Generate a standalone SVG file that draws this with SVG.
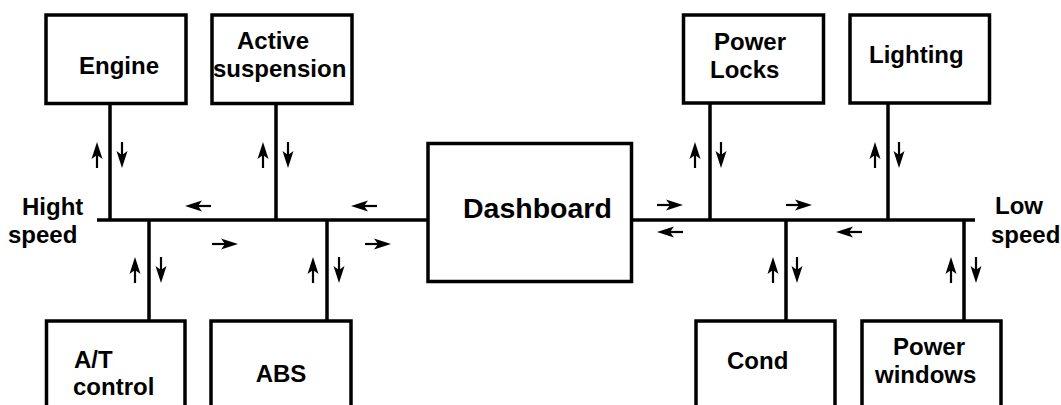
<svg xmlns="http://www.w3.org/2000/svg" width="1061" height="405" viewBox="0 0 1061 405">
  <style>
    .box { fill: #fff; stroke: #000; stroke-width: 3.5; }
    .wire { stroke: #000; stroke-width: 3.5; fill: none; }
    .lbl { font-family: "Liberation Sans", Arial, sans-serif; font-weight: bold; font-size: 24px; fill: #000; }
    .big { font-size: 28.5px; }
  </style>
  <defs>
    <!-- small signal arrow: tail at origin, tip at (26,0) -->
    <g id="sig">
      <path d="M0,0 H15" stroke="#000" stroke-width="2.2" fill="none"/>
      <path d="M26,0 L9,-5.5 L13,0 L9,5.5 Z" fill="#000"/>
    </g>
  </defs>
  <rect width="1061" height="405" fill="#fff"/>

  <!-- buses and stubs -->
  <g id="connectors">
    <path class="wire" d="M97,220 H428"/>
    <path class="wire" d="M631,220 H975"/>
    <path class="wire" d="M110,103.5 V220 M276,103.5 V220 M149,220 V321 M327,220 V321"/>
    <path class="wire" d="M710,103 V220 M888,103 V220 M786,220 V321 M964,220 V321"/>

    <!-- up/down pairs on the stubs -->
    <use href="#sig" transform="translate(97,168) rotate(-90)"/>
    <use href="#sig" transform="translate(122,142) rotate(90)"/>
    <use href="#sig" transform="translate(263,168) rotate(-90)"/>
    <use href="#sig" transform="translate(288,142) rotate(90)"/>
    <use href="#sig" transform="translate(695,168) rotate(-90)"/>
    <use href="#sig" transform="translate(721,142) rotate(90)"/>
    <use href="#sig" transform="translate(875,168) rotate(-90)"/>
    <use href="#sig" transform="translate(899,142) rotate(90)"/>
    <use href="#sig" transform="translate(135,283) rotate(-90)"/>
    <use href="#sig" transform="translate(161,257) rotate(90)"/>
    <use href="#sig" transform="translate(313,283) rotate(-90)"/>
    <use href="#sig" transform="translate(339,257) rotate(90)"/>
    <use href="#sig" transform="translate(773,283) rotate(-90)"/>
    <use href="#sig" transform="translate(797,257) rotate(90)"/>
    <use href="#sig" transform="translate(951,283) rotate(-90)"/>
    <use href="#sig" transform="translate(976,257) rotate(90)"/>

    <!-- flow along the buses -->
    <use href="#sig" transform="translate(211,206) rotate(180)"/>
    <use href="#sig" transform="translate(377,206) rotate(180)"/>
    <use href="#sig" transform="translate(212,244)"/>
    <use href="#sig" transform="translate(365,244)"/>
    <use href="#sig" transform="translate(657,205)"/>
    <use href="#sig" transform="translate(786,205)"/>
    <use href="#sig" transform="translate(683,232) rotate(180)"/>
    <use href="#sig" transform="translate(862,232) rotate(180)"/>
  </g>

  <g id="engine">
    <rect class="box" x="46" y="15" width="140" height="88.5"/>
    <text class="lbl" x="79" y="74">Engine</text>
  </g>
  <g id="active-suspension">
    <rect class="box" x="212" y="15" width="140" height="88.5"/>
    <text class="lbl" x="237" y="49">Active</text>
    <text class="lbl" x="213" y="77">suspension</text>
  </g>
  <g id="at-control">
    <rect class="box" x="46.5" y="321" width="138.5" height="100"/>
    <text class="lbl" x="74" y="368">A/T</text>
    <text class="lbl" x="73" y="395">control</text>
  </g>
  <g id="abs">
    <rect class="box" x="211" y="321" width="140" height="100"/>
    <text class="lbl" x="281" y="382" text-anchor="middle">ABS</text>
  </g>
  <g id="dashboard">
    <rect class="box" x="428" y="143.5" width="203.5" height="138"/>
    <text class="lbl big" x="463" y="218">Dashboard</text>
  </g>
  <g id="power-locks">
    <rect class="box" x="683.5" y="15" width="140" height="88"/>
    <text class="lbl" x="714" y="50">Power</text>
    <text class="lbl" x="710" y="78">Locks</text>
  </g>
  <g id="lighting">
    <rect class="box" x="850" y="15" width="139.5" height="88"/>
    <text class="lbl" x="869" y="63">Lighting</text>
  </g>
  <g id="cond">
    <rect class="box" x="696" y="321" width="139" height="100"/>
    <text class="lbl" x="727" y="369">Cond</text>
  </g>
  <g id="power-windows">
    <rect class="box" x="862" y="321" width="139" height="100"/>
    <text class="lbl" x="893" y="355">Power</text>
    <text class="lbl" x="875" y="383">windows</text>
  </g>

  <g id="bus-labels">
    <text class="lbl" x="22" y="215">Hight</text>
    <text class="lbl" x="8" y="243">speed</text>
    <text class="lbl" x="995" y="214">Low</text>
    <text class="lbl" x="991" y="243">speed</text>
  </g>
</svg>
